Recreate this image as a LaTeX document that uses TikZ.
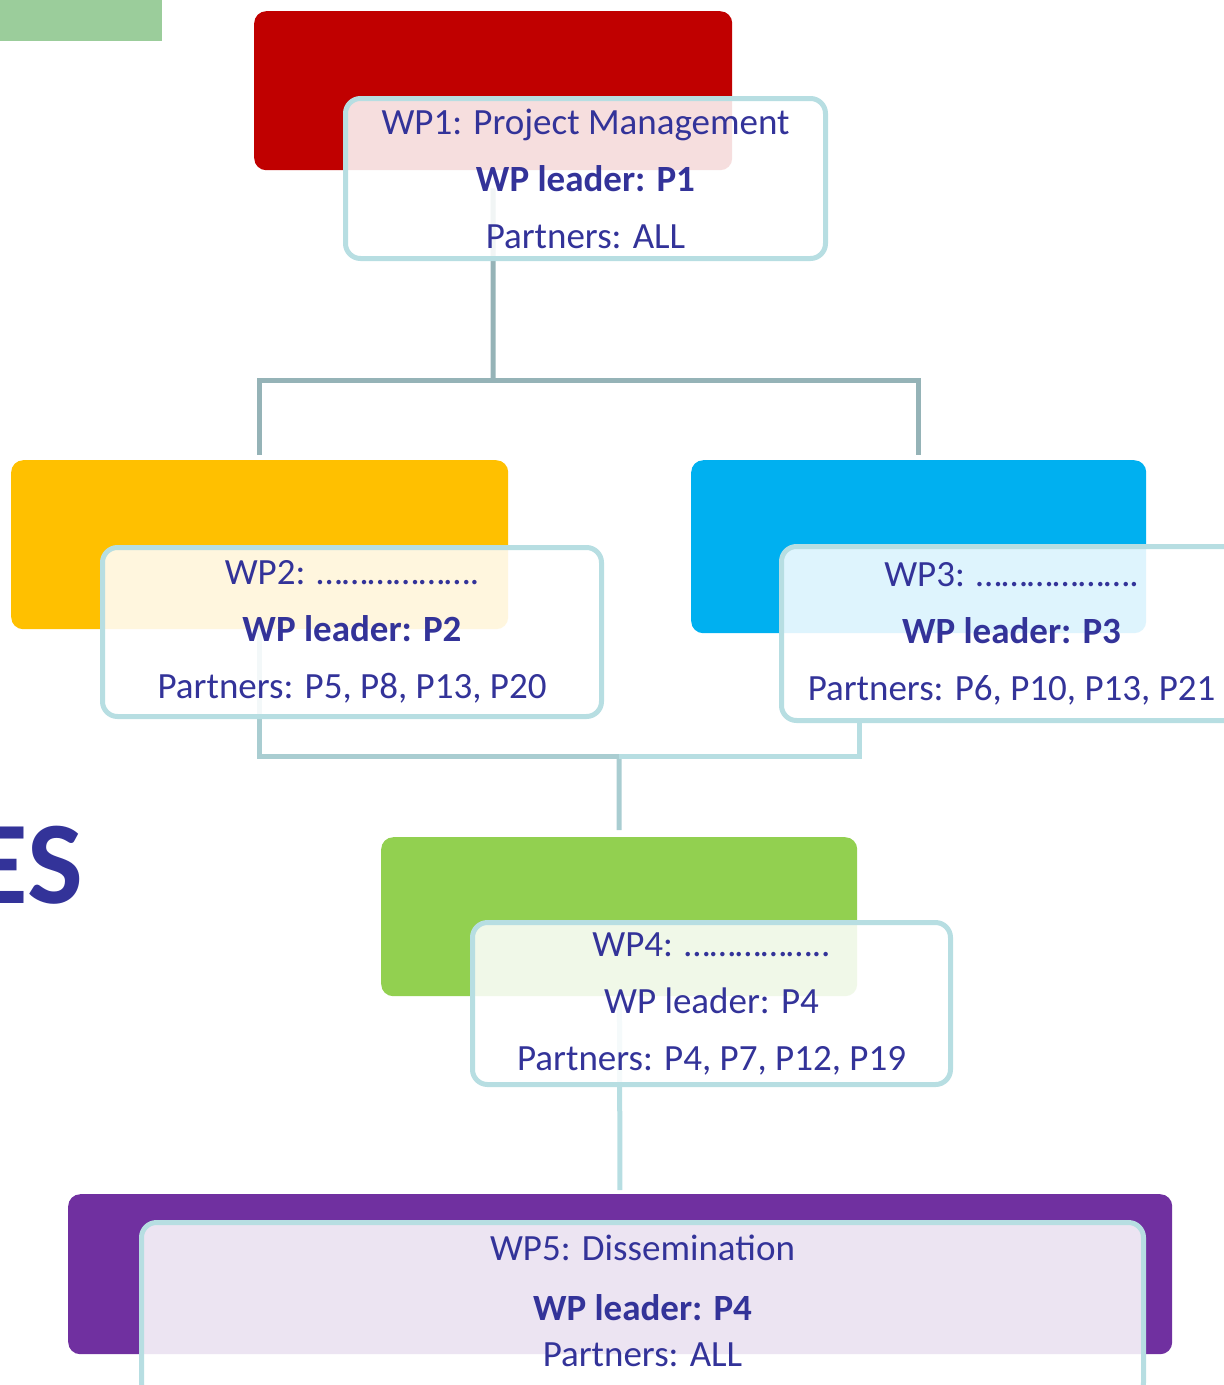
\documentclass[tikz,border=0pt]{standalone}
\usepackage{fontspec}
\setmainfont{Carlito}
\definecolor{wptext}{HTML}{333399}
\definecolor{wpred}{HTML}{C00000}
\definecolor{wpyellow}{HTML}{FFC000}
\definecolor{wpblue}{HTML}{00B0F0}
\definecolor{wpgreen}{HTML}{92D050}
\definecolor{wppurple}{HTML}{7030A0}
\definecolor{bargreen}{HTML}{9BCD9B}
\definecolor{rim}{HTML}{B7DEE2}
\definecolor{conngray}{HTML}{95B3B7}
\definecolor{connmid}{HTML}{A9CDD1}
\begin{document}
\begin{tikzpicture}[x=1pt,y=-1pt]
  \tikzstyle{block}=[rounded corners=12pt, inner sep=0pt, anchor=north west]
  \tikzstyle{wpbox}=[rounded corners=15pt, draw=rim, line width=5pt, fill=white, fill opacity=0.87, text opacity=1, text=wptext, inner sep=0pt, anchor=north west, align=center, font=\fontsize{37}{57}\selectfont]
  \tikzstyle{wplines}=[text=wptext, inner sep=0pt, align=center, font=\fontsize{37}{57}\selectfont]
  \tikzstyle{conn}=[line width=5pt, conngray]

  \useasboundingbox (0,0) rectangle (1224,1385);
  \clip (0,0) rectangle (1224,1385);

  \fill[bargreen] (0,0) rectangle (162,41);
  \node[anchor=base east, inner sep=0pt, text=wptext, font=\bfseries\fontsize{118}{118}\selectfont] (es) at (83,903) {ES};

  % coloured blocks
  \node[block, fill=wpred,    minimum width=478pt,  minimum height=159pt] (red)    at (254,11)   {};
  \node[block, fill=wpyellow, minimum width=497pt,  minimum height=169pt] (yellow) at (11,460)   {};
  \node[block, fill=wpblue,   minimum width=455pt,  minimum height=173pt] (blue)   at (691,460)  {};
  \node[block, fill=wpgreen,  minimum width=476pt,  minimum height=159pt] (green)  at (381,837)  {};
  \node[block, fill=wppurple, minimum width=1104pt, minimum height=160pt] (purple) at (68,1194)  {};

  \coordinate (j1) at (493,380);
  \coordinate (j2) at (619,756);
  \coordinate (k3) at (859,756);

  % connectors
  \draw[conn, shorten <=18pt] (red) -- (j1);
  \draw[conn, shorten >=5pt] (j1) -| (yellow);
  \draw[conn, shorten >=5pt] (j1) -| (blue);
  \draw[conn, connmid] (yellow) |- (j2);
  \draw[conn, connmid, shorten >=7pt] (j2) -- (green);
  \draw[conn, rim, shorten >=4pt] (green) -- (purple);

  % text boxes
  \node[wpbox, minimum width=480pt,  minimum height=160pt] (wp1) at (343,96)
    {WP1: Project Management\\ \textbf{WP leader: P1}\\ Partners: ALL};
  \node[wpbox, minimum width=499pt,  minimum height=169pt] (wp2) at (100,545)
    {WP2: ……………….\\ \textbf{WP leader: P2}\\ Partners: P5, P8, P13, P20};
  \node[wpbox, minimum width=460pt,  minimum height=174pt] (wp3) at (779,544)
    {WP3: ……………….\\ \textbf{WP leader: P3}\\ Partners: P6, P10, P13, P21};
  \node[wpbox, minimum width=478pt,  minimum height=162pt] (wp4) at (470,920)
    {WP4: ……………..\\ WP leader: P4\\ Partners: P4, P7, P12, P19};
  \node[wpbox, minimum width=1002pt, minimum height=175pt] (wp5) at (139,1220) {};
  \node[wplines] (wp5text) at ([yshift=9pt]wp5.center)
    {WP5: Dissemination\\[3pt] \textbf{WP leader: P4}\\[-11pt] Partners: ALL};

  \draw[conn, rim] (k3 |- wp3.south) -- (k3) -- (j2);
\end{tikzpicture}
\end{document}
